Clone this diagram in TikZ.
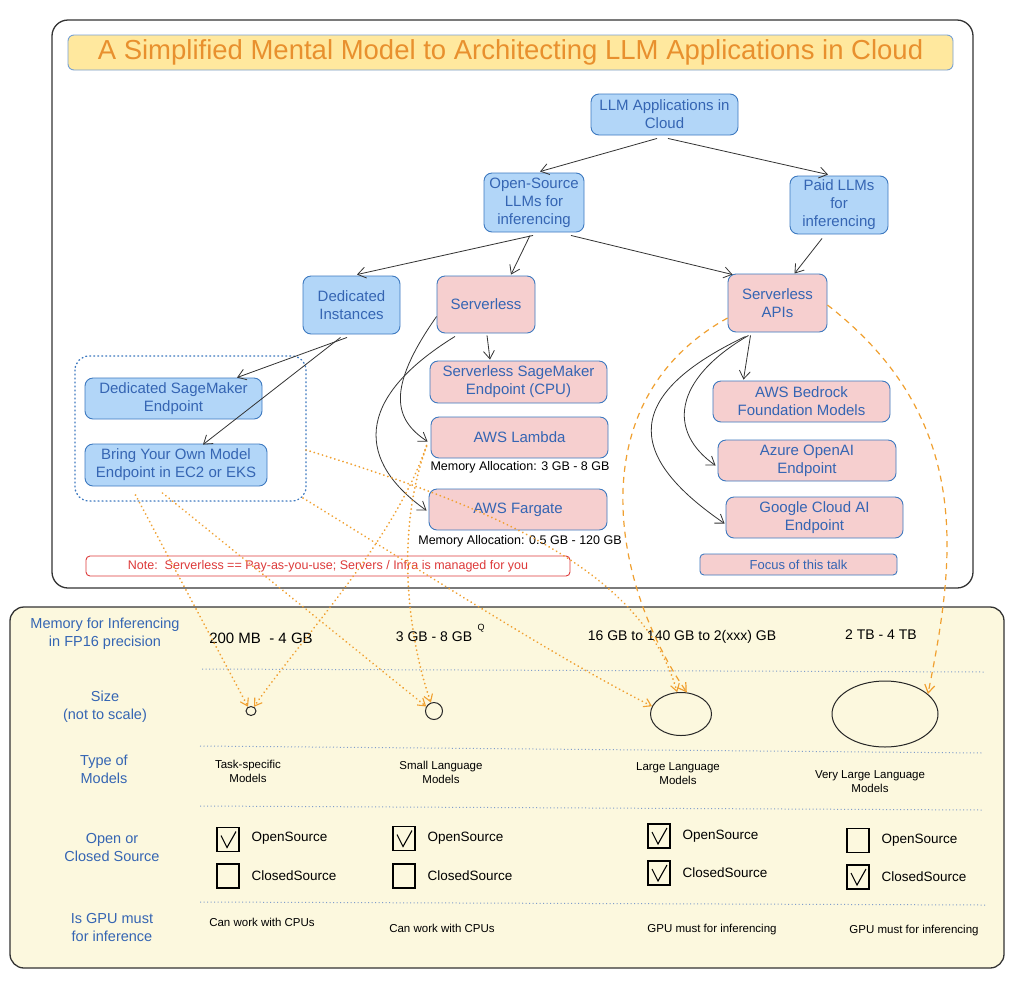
\documentclass[tikz,border=0pt]{standalone}
\usepackage{fontspec}
\setmainfont{Liberation Sans}
\usetikzlibrary{arrows.meta,shapes.geometric,calc}
\definecolor{bfill}{HTML}{B2D6F8}
\definecolor{pfill}{HTML}{F6CFCF}
\definecolor{bstroke}{HTML}{3D79C0}
\definecolor{btext}{HTML}{3565B3}
\definecolor{tfill}{HTML}{FFE89E}
\definecolor{ttext}{HTML}{E8902E}
\definecolor{orng}{HTML}{F0A030}
\definecolor{panel}{HTML}{FCF8DE}
\definecolor{notered}{HTML}{DD3A3A}
\definecolor{sepc}{HTML}{7F9CCB}
\definecolor{frm}{HTML}{333333}
\newcommand\ckmark[1]{\draw[chk] ($(#1.center)+(-7,-4)$) -- ($(#1.center)+(-1,8)$) -- ($(#1.center)+(8,-8)$);}
\begin{document}
\begin{tikzpicture}[x=1pt,y=-1pt,
  box/.style={draw=bstroke, line width=0.9pt, rounded corners=8pt, text=btext, align=center,
    font=\fontsize{15}{18}\selectfont, inner sep=2pt},
  bluebox/.style={box, fill=bfill},
  pinkbox/.style={box, fill=pfill},
  arr/.style={-{Straight Barb[length=8pt,width=11pt]}, line width=0.8pt, black!80},
  oarr/.style={orng, line width=1.9pt, dash pattern=on 0.1pt off 4.2pt, line cap=round,
    -{Straight Barb[length=7pt,width=9pt,line width=1.1pt,line cap=butt]}},
  odash/.style={orng, line width=1.2pt, dash pattern=on 6pt off 5pt,
    -{Straight Barb[length=8pt,width=10pt]}},
  lbl/.style={text=btext, align=center, font=\fontsize{14.5}{18}\selectfont},
  val/.style={text=black, align=center, font=\fontsize{14}{16}\selectfont},
  sm/.style={text=black, align=center, font=\fontsize{11.5}{14}\selectfont},
  ckbox/.style={draw=black, line width=1.1pt, minimum width=22pt, minimum height=24pt, inner sep=0pt},
  cktext/.style={text=black, anchor=west, font=\fontsize{13.5}{16}\selectfont},
  chk/.style={black, line width=1.1pt},
  sepline/.style={sepc, line width=1pt, dash pattern=on 1pt off 2.5pt},
  circ/.style={draw=black!85, line width=1pt, ellipse, inner sep=0pt}
]
\useasboundingbox (0,0) rectangle (1030,986);
\fill[white] (0,0) rectangle (1030,986);

% frames
\draw[frm, line width=1.3pt, rounded corners=16pt, fill=white] (52,20) rectangle (973,588);
\node[draw=bstroke!70, line width=0.9pt, fill=tfill, rounded corners=6pt, minimum width=885pt,
  minimum height=35pt, text=ttext, font=\fontsize{27.5}{30}\selectfont] (title) at (510.5,52.5)
  {A Simplified Mental Model to Architecting LLM Applications in Cloud};
\draw[frm, line width=1.3pt, rounded corners=14pt, fill=panel] (10,607) rectangle (1004,968);

% tree nodes
\node[bluebox, minimum width=147pt, minimum height=41pt] (app) at (664.5,114.5) {LLM Applications in\\Cloud};
\node[bluebox, minimum width=100pt, minimum height=59pt] (open) at (534,202.5) {Open-Source\\LLMs for\\inferencing};
\node[bluebox, minimum width=98pt, minimum height=58pt] (paid) at (839,205) {Paid LLMs\\for\\inferencing};
\node[bluebox, minimum width=97pt, minimum height=58pt] (ded) at (351.5,305) {Dedicated\\Instances};
\node[pinkbox, minimum width=98pt, minimum height=57pt] (srv) at (486,304.5) {Serverless};
\node[pinkbox, minimum width=99pt, minimum height=58pt] (api) at (777.5,303) {Serverless\\APIs};

\draw[bstroke, line width=1.3pt, dash pattern=on 1pt off 3pt, line cap=round, rounded corners=14pt]
  (75,356) rectangle (306,501);
\coordinate (contS) at (190.5,501);
\coordinate (contSE) at (303,498);
\coordinate (contE) at (306,450);

\node[bluebox, minimum width=177pt, minimum height=41pt] (dsm) at (173.5,398.5) {Dedicated SageMaker\\Endpoint};
\node[bluebox, minimum width=182pt, minimum height=42pt] (byom) at (176,465) {Bring Your Own Model\\Endpoint in EC2 or EKS};

\node[pinkbox, minimum width=177pt, minimum height=42pt] (ssm) at (518.5,382) {Serverless SageMaker\\Endpoint (CPU)};
\node[pinkbox, minimum width=177pt, minimum height=41pt] (lam) at (519.5,437.5) {AWS Lambda};
\node[sm, font=\fontsize{12.5}{14}\selectfont] (mem1) at (520,467) {Memory Allocation: 3 GB - 8 GB};
\node[pinkbox, minimum width=178pt, minimum height=41pt] (farg) at (518,509.5) {AWS Fargate};
\node[sm, font=\fontsize{12.5}{14}\selectfont] (mem2) at (520,541) {Memory Allocation: 0.5 GB - 120 GB};

\node[pinkbox, minimum width=177pt, minimum height=41pt] (bed) at (801.5,401.5) {AWS Bedrock\\Foundation Models};
\node[pinkbox, minimum width=178pt, minimum height=41pt] (az) at (807,460.5) {Azure OpenAI\\Endpoint};
\node[pinkbox, minimum width=177pt, minimum height=41pt] (goo) at (814.5,517.5) {Google Cloud AI\\Endpoint};
\node[pinkbox, rounded corners=4pt, minimum width=197pt, minimum height=21pt, font=\fontsize{13}{14}\selectfont] (focus) at (798.5,564.5) {Focus of this talk};
\node[draw=notered, line width=0.9pt, rounded corners=4pt, fill=white, minimum width=484pt, minimum height=20pt,
  text=notered, font=\fontsize{12.5}{14}\selectfont] (note) at (328,566)
  {Note:\ \ Serverless == Pay-as-you-use; Servers / Infra is managed for you};

% tree connectors
\draw[arr] ([xshift=-7.5pt,yshift=-3pt]app.south) -- ([xshift=6pt,yshift=1pt]open.north);
\draw[arr] ([xshift=3.5pt,yshift=-3pt]app.south) -- ([xshift=-11pt,yshift=1pt]paid.north);
\draw[arr] ([xshift=-1pt,yshift=-3pt]open.south) -- ([xshift=5.5pt,yshift=1pt]ded.north);
\draw[arr] ([xshift=-4pt,yshift=-3pt]open.south) -- ([xshift=25pt,yshift=1pt]srv.north);
\draw[arr] ([xshift=37pt,yshift=-3pt]open.south) -- ([xshift=5pt,yshift=-1pt]api.north west);
\draw[arr] ([xshift=-17pt,yshift=-4pt]paid.south) -- ([xshift=17pt,yshift=0pt]api.north);
\draw[arr] ([xshift=-4.5pt,yshift=-3pt]ded.south) -- ([xshift=63.5pt,yshift=0pt]dsm.north);
\draw[arr] ([xshift=-11pt,yshift=-3pt]ded.south) -- ([xshift=27pt,yshift=-1pt]byom.north);
\draw[arr] ([xshift=1pt,yshift=-2pt]srv.south) -- ([xshift=-28.5pt,yshift=1pt]ssm.north);
\draw[arr] ([yshift=-12pt]srv.west) .. controls (385,390) and (395,420) .. ([xshift=-3pt,yshift=-4pt]lam.west);
\draw[arr] ([xshift=-31pt,yshift=-3pt]srv.south) .. controls (352,400) and (358,462) .. ([xshift=-2pt,yshift=-1pt]farg.west);
\draw[arr] ([xshift=-27pt,yshift=-3pt]api.south) -- ([xshift=-58pt,yshift=1pt]bed.north);
\draw[arr] ([xshift=-29pt,yshift=-3pt]api.south) .. controls (672,380) and (668,432) .. ([xshift=-2pt,yshift=-5pt]az.west);
\draw[arr] ([xshift=-32pt,yshift=-4pt]api.south) .. controls (612,400) and (635,462) .. ([xshift=-1pt,yshift=-6pt]goo.west);

% bottom panel
\node[lbl] (l1) at (105,633.5) {Memory for Inferencing\\in FP16 precision};
\node[lbl] (l2) at (105,707) {Size\\(not to scale)};
\node[lbl] (l3) at (104,769) {Type of\\Models};
\node[lbl] (l4) at (112,847.5) {Open or\\Closed Source};
\node[lbl] (l5) at (112,927) {Is GPU must\\for inference};

\draw[sepline] (202,669) -- (985,672);
\draw[sepline] (200,746) -- (983,753);
\draw[sepline] (200,806) -- (983,810);
\draw[sepline] (200,902) -- (985,905);

\node[val, font=\fontsize{15}{16}\selectfont] (v1) at (261,638) {200 MB\ \ - 4 GB};
\node[val] (v2) at (434,637) {3 GB - 8 GB};
\node[val, font=\fontsize{9}{10}\selectfont] (v2q) at (481,628) {Q};
\node[val] (v3) at (682,637) {16 GB to 140 GB to 2(xxx) GB};
\node[val] (v4) at (881,635) {2 TB - 4 TB};

\node[circ, minimum width=10pt, minimum height=9pt] (c1) at (251,711) {};
\node[circ, minimum width=17pt, minimum height=17pt] (c2) at (434,711) {};
\node[circ, minimum width=61pt, minimum height=43pt] (c3) at (681,714) {};
\node[circ, minimum width=106pt, minimum height=66pt] (c4) at (885,714) {};

\node[sm] (t1) at (248,771) {Task-specific\\Models};
\node[sm] (t2) at (441,772) {Small Language\\Models};
\node[sm] (t3) at (678,774) {Large Language\\Models};
\node[sm] (t4) at (870,782) {Very Large Language\\Models};

\node[ckbox] (k1o) at (228,839.5) {}; \ckmark{k1o}
\node[cktext] at (248,838) {OpenSource};
\node[ckbox] (k1c) at (228,876) {};
\node[cktext] at (248,876) {ClosedSource};
\node[ckbox] (k2o) at (404,838.5) {}; \ckmark{k2o}
\node[cktext] at (424,838) {OpenSource};
\node[ckbox] (k2c) at (404,876) {};
\node[cktext] at (424,876) {ClosedSource};
\node[ckbox] (k3o) at (659,836) {}; \ckmark{k3o}
\node[cktext] at (679,836) {OpenSource};
\node[ckbox] (k3c) at (659,873) {}; \ckmark{k3c}
\node[cktext] at (679,873) {ClosedSource};
\node[ckbox] (k4o) at (858,840.5) {};
\node[cktext] at (878,840) {OpenSource};
\node[ckbox] (k4c) at (858,877) {}; \ckmark{k4c}
\node[cktext] at (878,877) {ClosedSource};

\node[sm] (g1) at (262,922) {Can work with CPUs};
\node[sm] (g2) at (442,928) {Can work with CPUs};
\node[sm] (g3) at (712,930) {GPU must for inferencing};
\node[sm] (g4) at (914,931) {GPU must for inferencing};

% orange connectors
\draw[oarr] ([xshift=-55pt,yshift=6pt]contS) -- (c1.125);
\draw[oarr] ([xshift=-28pt,yshift=8pt]contS) -- (c2.150);
\draw[oarr] (contSE) .. controls (420,570) and (560,660) .. (c3.165);
\draw[oarr] (contE) .. controls (520,515) and (645,580) .. (c3.100);
\draw[oarr] ([xshift=-4pt,yshift=-8pt]lam.west) .. controls (395,540) and (300,640) .. (c1.55);
\draw[oarr] ([xshift=-4pt,yshift=-9pt]lam.west) .. controls (392,540) and (412,650) .. (c2.110);
\draw[odash] ([yshift=-15pt]api.west) .. controls (580,400) and (610,580) .. (c3.75);
\draw[odash] ([yshift=-2pt]api.east) .. controls (975,420) and (955,560) .. (c4.25);
\end{tikzpicture}
\end{document}
